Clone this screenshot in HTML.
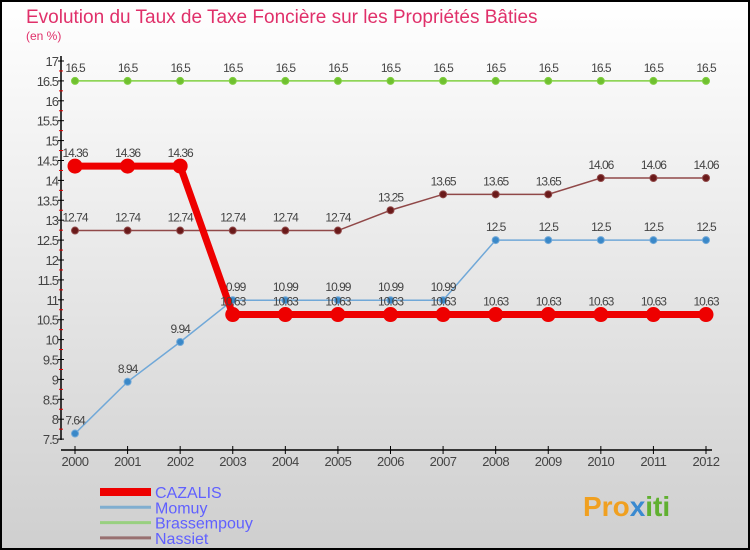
<!DOCTYPE html>
<html><head><meta charset="utf-8"><style>
body{margin:0}
#wrap{width:750px;height:550px;position:relative;overflow:hidden;font-family:"Liberation Sans",sans-serif}
</style></head><body>
<div id="wrap">
<svg id="chart" width="750" height="550" xmlns="http://www.w3.org/2000/svg">
<defs><linearGradient id="bg" x1="0" y1="0" x2="0" y2="1"><stop offset="0" stop-color="#ffffff"/><stop offset="1" stop-color="#cfcfcf"/></linearGradient></defs>
<rect x="1" y="1" width="748" height="548" fill="url(#bg)" stroke="#000" stroke-width="2"/>
<text x="26" y="23" font-size="19" fill="#e0306a">Evolution du Taux de Taxe Foncière sur les Propriétés Bâties</text>
<text x="26" y="40" font-size="12" fill="#e0306a">(en %)</text>
<g id="axes"></g><g id="series"></g><g id="legend"></g>
<g>
<text x="583" y="516" font-size="28" font-weight="bold" fill="#f0a020">Pro<tspan fill="#3a8ad0">x</tspan><tspan fill="#60b030">iti</tspan></text>
</g>
</svg>
</div>
<script>
const years=["2000","2001","2002","2003","2004","2005","2006","2007","2008","2009","2010","2011","2012"];
const cazalis=[14.36,14.36,14.36,10.63,10.63,10.63,10.63,10.63,10.63,10.63,10.63,10.63,10.63];
const momuy=[7.64,8.94,9.94,10.99,10.99,10.99,10.99,10.99,12.5,12.5,12.5,12.5,12.5];
const brassempouy=[16.5,16.5,16.5,16.5,16.5,16.5,16.5,16.5,16.5,16.5,16.5,16.5,16.5];
const nassiet=[12.74,12.74,12.74,12.74,12.74,12.74,13.25,13.65,13.65,13.65,14.06,14.06,14.06];
const yTicks=[7.5,8,8.5,9,9.5,10,10.5,11,11.5,12,12.5,13,13.5,14,14.5,15,15.5,16,16.5,17];
const NS="http://www.w3.org/2000/svg";
const x=i=>75+i*(706-75)/(years.length-1);
const y=v=>61+(17-v)*39.8;
function mk(tag,attrs,parent){const e=document.createElementNS(NS,tag);for(const k in attrs)e.setAttribute(k,attrs[k]);parent.appendChild(e);return e;}
const axes=document.getElementById('axes');
let yl=mk('line',{x1:61,y1:56,x2:61,y2:440,stroke:'#000','stroke-width':1.5},axes);


let xl=mk('line',{x1:61,y1:450,x2:712,y2:450,stroke:'#000','stroke-width':1.5},axes);


yTicks.forEach((v,i)=>{
  const t=mk('line',{x1:58,x2:64,y1:y(v),y2:y(v),stroke:'#000'},axes);
  
  
  if(i<yTicks.length-1){const m=mk('line',{x1:59,x2:63,y1:y(v+0.25),y2:y(v+0.25),stroke:'#e00000'},axes);
  
  }
  const l=mk('text',{x:58,y:y(v)+5,'font-size':13,'text-anchor':'end',fill:'#444','letter-spacing':'-1'},axes);
  l.textContent=String(v);
  
  
});
years.forEach((yr,i)=>{
  const t=mk('line',{x1:x(i),x2:x(i),y1:446,y2:454,stroke:'#000'},axes);
  
  
  const l=mk('text',{x:x(i),y:466,'font-size':13,'text-anchor':'middle',fill:'#444','letter-spacing':'-0.5'},axes);
  l.textContent=yr;
  
  
});
const ser=document.getElementById('series');
function draw(name,data,color,dot,w,r){
  const g=mk('g',{},ser);
  
  
  const p=mk('polyline',{points:data.map((v,i)=>x(i)+','+y(v)).join(' '),fill:'none',stroke:color,'stroke-width':w},g);
  
  
  data.forEach((v,i)=>{
    const c=mk('circle',{cx:x(i),cy:y(v),r:r,fill:dot,stroke:color},g);
    
    
    const t=mk('text',{x:x(i),y:y(v)-9,'font-size':12,'text-anchor':'middle',fill:'#444','letter-spacing':'-1'},g);
    t.textContent=String(v);
    
    
  });
}
draw('brassempouy',brassempouy,'#80d040','#70c030',1.5,3.5);
draw('nassiet',nassiet,'#904848','#6a1a1a',1.5,3.5);
draw('momuy',momuy,'#70a8d8','#3a88c8',1.5,3.5);
draw('cazalis',cazalis,'#ee0000','#ee0000',7,7);
const leg=document.getElementById('legend');
[['CAZALIS','#ee0000',8],['Momuy','#80aed0',3],['Brassempouy','#98d080',3],['Nassiet','#987070',3]].forEach((d,i)=>{
  const yy=492+i*15.3;
  const l=mk('line',{x1:100,x2:151,y1:yy,y2:yy,stroke:d[1],'stroke-width':d[2]},leg);
  
  
  const t=mk('text',{x:155,y:yy+6,'font-size':16,fill:'#6060ff'},leg);
  t.textContent=d[0];
  
  
});
</script>
</body></html>
